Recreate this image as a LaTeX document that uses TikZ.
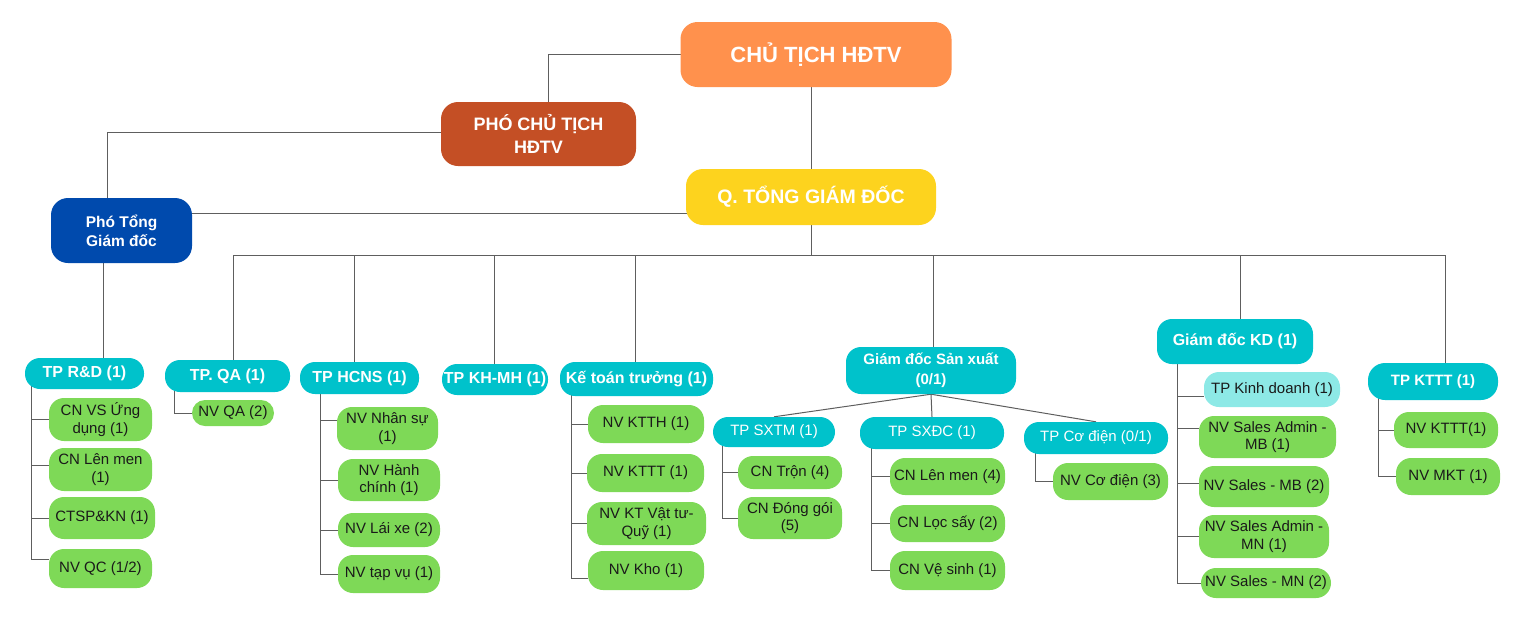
\documentclass[tikz,border=0pt]{standalone}
\usepackage{fontspec}
\setmainfont{Liberation Sans}
\usetikzlibrary{calc}
\pgfdeclarelayer{bg}
\pgfsetlayers{bg,main}
\definecolor{cOrange}{HTML}{FF914D}
\definecolor{cRust}{HTML}{C44F25}
\definecolor{cYellow}{HTML}{FDD31E}
\definecolor{cBlue}{HTML}{004AAD}
\definecolor{cTeal}{HTML}{00C2CB}
\definecolor{cGreen}{HTML}{7ED957}
\definecolor{cLight}{HTML}{8DE9E6}
\definecolor{cText}{HTML}{1A1A1A}
\definecolor{cLine}{HTML}{5E5E5E}
\tikzset{
 base/.style={rectangle, align=center, inner sep=0pt, rounded corners=15pt},
 sz/.style 2 args={minimum width=#1pt, minimum height=#2pt},
 topbox/.style={base, rounded corners=17pt, text=white},
 headbox/.style={base, fill=cTeal, text=white, rounded corners=15pt, font=\bfseries\fontsize{16}{20}\selectfont},
 subbox/.style={base, fill=cTeal, text=white, rounded corners=15pt, font=\fontsize{15}{17.5}\selectfont},
 leaf/.style={base, fill=cGreen, text=cText, font=\fontsize{15}{17.5}\selectfont},
 conn/.style={draw=cLine, line width=1pt},
}
\begin{document}
\begin{tikzpicture}[x=1pt,y=-1pt]
\useasboundingbox (0,0) rectangle (1521,638);
% top level
\node[topbox, fill=cOrange, sz={271}{65}, font=\bfseries\fontsize{22}{26}\selectfont] (ct) at (816,54.5) {CHỦ TỊCH HĐTV};
\node[topbox, fill=cRust, sz={195}{64}, font=\bfseries\fontsize{18}{23}\selectfont] (pct) at (538.5,134) {PHÓ CHỦ TỊCH\\HĐTV};
\node[topbox, fill=cYellow, sz={250}{56}, font=\bfseries\fontsize{19.5}{23}\selectfont] (qtgd) at (811,197) {Q. TỔNG GIÁM ĐỐC};
\node[topbox, fill=cBlue, sz={141}{65}, font=\bfseries\fontsize{15.5}{19}\selectfont] (ptgd) at (121.5,230.5) {Phó Tổng\\Giám đốc};
% department heads
\node[headbox, sz={119}{31}] (rd) at (84.5,373.5) {TP R\&D (1)};
\node[headbox, sz={125}{32}] (qa) at (227.5,376) {TP. QA (1)};
\node[headbox, sz={119}{32}] (hc) at (359.5,378) {TP HCNS (1)};
\node[headbox, sz={106}{31}] (kh) at (495,379.5) {TP KH-MH (1)};
\node[headbox, sz={153}{34}] (kt) at (636.5,379) {Kế toán trưởng (1)};
\node[headbox, sz={170}{47}, font=\bfseries\fontsize{15}{20}\selectfont] (sx) at (931,370.5) {Giám đốc Sản xuất\\(0/1)};
\node[headbox, sz={156}{45}] (kd) at (1235,341.5) {Giám đốc KD (1)};
\node[headbox, sz={130}{37}, rounded corners=17pt, font=\bfseries\fontsize{15}{18}\selectfont] (tt) at (1433,381.5) {TP KTTT (1)};
% production sub heads
\node[subbox, sz={122}{30}] (sxtm) at (774,432) {TP SXTM (1)};
\node[subbox, sz={144}{32}] (sxdc) at (932,433) {TP SXĐC (1)};
\node[subbox, sz={144}{32}] (cd) at (1096,438) {TP Cơ điện (0/1)};
% leaves R&D
\node[leaf, sz={103}{43}] (rd1) at (100.5,419.5) {CN VS Ứng\\dụng (1)};
\node[leaf, sz={103}{43}] (rd2) at (100.5,469.5) {CN Lên men\\(1)};
\node[leaf, sz={106}{42}] (rd3) at (102,518) {CTSP\&KN (1)};
\node[leaf, sz={103}{39}] (rd4) at (100.5,568.5) {NV QC (1/2)};
% QA
\node[leaf, sz={82}{26}, rounded corners=13pt] (qa1) at (233,413) {NV QA (2)};
% HCNS
\node[leaf, sz={101}{43}] (hc1) at (387.5,428.5) {NV Nhân sự\\(1)};
\node[leaf, sz={102}{42}] (hc2) at (389,480) {NV Hành\\chính (1)};
\node[leaf, sz={102}{34}] (hc3) at (389,530) {NV Lái xe (2)};
\node[leaf, sz={102}{38}] (hc4) at (389,574) {NV tạp vụ (1)};
% Ke toan
\node[leaf, sz={116}{38}] (kt1) at (646,424) {NV KTTH (1)};
\node[leaf, sz={117}{38}] (kt2) at (645.5,473) {NV KTTT (1)};
\node[leaf, sz={119}{43}] (kt3) at (646.5,523.5) {NV KT Vật tư-\\Quỹ (1)};
\node[leaf, sz={116}{39}] (kt4) at (646,570.5) {NV Kho (1)};
% SXTM
\node[leaf, sz={104}{33}] (sxtm1) at (790,472.5) {CN Trộn (4)};
\node[leaf, sz={104}{42}] (sxtm2) at (790,518) {CN Đóng gói\\(5)};
% SXDC
\node[leaf, sz={115}{37}] (sxdc1) at (947.5,476.5) {CN Lên men (4)};
\node[leaf, sz={115}{37}] (sxdc2) at (947.5,523.5) {CN Lọc sấy (2)};
\node[leaf, sz={115}{39}] (sxdc3) at (947.5,570.5) {CN Vệ sinh (1)};
% Co dien
\node[leaf, sz={115}{37}] (cd1) at (1110.5,481.5) {NV Cơ điện (3)};
% KD
\node[leaf, fill=cLight, sz={136}{35}] (kd1) at (1272,389.5) {TP Kinh doanh (1)};
\node[leaf, sz={137}{42}] (kd2) at (1267.5,437) {NV Sales Admin -\\MB (1)};
\node[leaf, sz={130}{41}] (kd3) at (1264,486.5) {NV Sales - MB (2)};
\node[leaf, sz={130}{43}] (kd4) at (1264,536.5) {NV Sales Admin -\\MN (1)};
\node[leaf, sz={130}{30}] (kd5) at (1266,583) {NV Sales - MN (2)};
% KTTT
\node[leaf, sz={104}{36}] (tt1) at (1446,430) {NV KTTT(1)};
\node[leaf, sz={104}{37}] (tt2) at (1448,476.5) {NV MKT (1)};

\begin{pgfonlayer}{bg}
\draw[conn] (ct.center) -| ([xshift=9.5pt]pct.center);
\draw[conn] ([yshift=2pt]pct.center) -| ([xshift=-14.5pt]ptgd.center);
\draw[conn] (qtgd.center) -- (qtgd.center |- ct.center);
\coordinate (q1) at ([yshift=-16pt]qtgd.center);
\draw[conn] (q1) -- (q1 -| ptgd.center);
\coordinate (p1) at ([xshift=-18.5pt]ptgd.center);
\draw[conn] (p1) -- (p1 |- rd.center);
\coordinate (bus) at (811,255);
\draw[conn] (qtgd.center) -- (bus);
\draw[conn] ([xshift=5.5pt]qa.center) |- (bus);
\draw[conn] ([xshift=-5.5pt]hc.center) |- (bus);
\draw[conn] ([xshift=-1pt]kh.center) |- (bus);
\draw[conn] ([xshift=-1.5pt]kt.center) |- (bus);
\draw[conn] ([xshift=2pt]sx.center) |- (bus);
\draw[conn] ([xshift=5pt]kd.center) |- (bus);
\draw[conn] ([xshift=12pt]tt.center) |- (bus);
% production subs
\draw[conn] (sx.south) -- (sxtm.north);
\draw[conn] (sx.south) -- (sxdc.north);
\draw[conn] (sx.south) -- (cd.north);
% spines
\coordinate (rdS) at ([xshift=7pt]rd.west);
\draw[conn] (rdS) |- (rd1.west);
\draw[conn] (rdS) |- ([yshift=4.5pt]rd2.west);
\draw[conn] (rdS) |- (rd3.west);
\draw[conn] (rdS) |- ([yshift=9pt]rd4.west);
\coordinate (qaS) at ([xshift=10pt]qa.west);
\draw[conn] (qaS) |- (qa1.west);
\coordinate (hcS) at ([xshift=21pt]hc.west);
\draw[conn] (hcS) |- ([yshift=8.5pt]hc1.west);
\draw[conn] (hcS) |- (hc2.west);
\draw[conn] (hcS) |- (hc3.west);
\draw[conn] (hcS) |- (hc4.west);
\coordinate (ktS) at ([xshift=12pt]kt.west);
\draw[conn] (ktS) |- (kt1.west);
\draw[conn] (ktS) |- (kt2.west);
\draw[conn] (ktS) |- (kt3.west);
\draw[conn] (ktS) |- ([yshift=-7.5pt]kt4.west);
\coordinate (sxtmS) at ([xshift=10pt]sxtm.west);
\draw[conn] (sxtmS) |- (sxtm1.west);
\draw[conn] (sxtmS) |- (sxtm2.west);
\coordinate (sxdcS) at ([xshift=12pt]sxdc.west);
\draw[conn] (sxdcS) |- (sxdc1.west);
\draw[conn] (sxdcS) |- (sxdc2.west);
\draw[conn] (sxdcS) |- (sxdc3.west);
\coordinate (cdS) at ([xshift=12pt]cd.west);
\draw[conn] (cdS) |- (cd1.west);
\coordinate (kdS) at ([xshift=21pt]kd.west);
\draw[conn] (kdS) |- ([yshift=-7pt]kd1.west);
\draw[conn] (kdS) |- ([yshift=9pt]kd2.west);
\draw[conn] (kdS) |- ([yshift=3pt]kd3.west);
\draw[conn] (kdS) |- (kd4.west);
\draw[conn] (kdS) |- (kd5.west);
\coordinate (ttS) at ([xshift=11pt]tt.west);
\draw[conn] (ttS) |- (tt1.west);
\draw[conn] (ttS) |- (tt2.west);
\end{pgfonlayer}
\end{tikzpicture}
\end{document}
